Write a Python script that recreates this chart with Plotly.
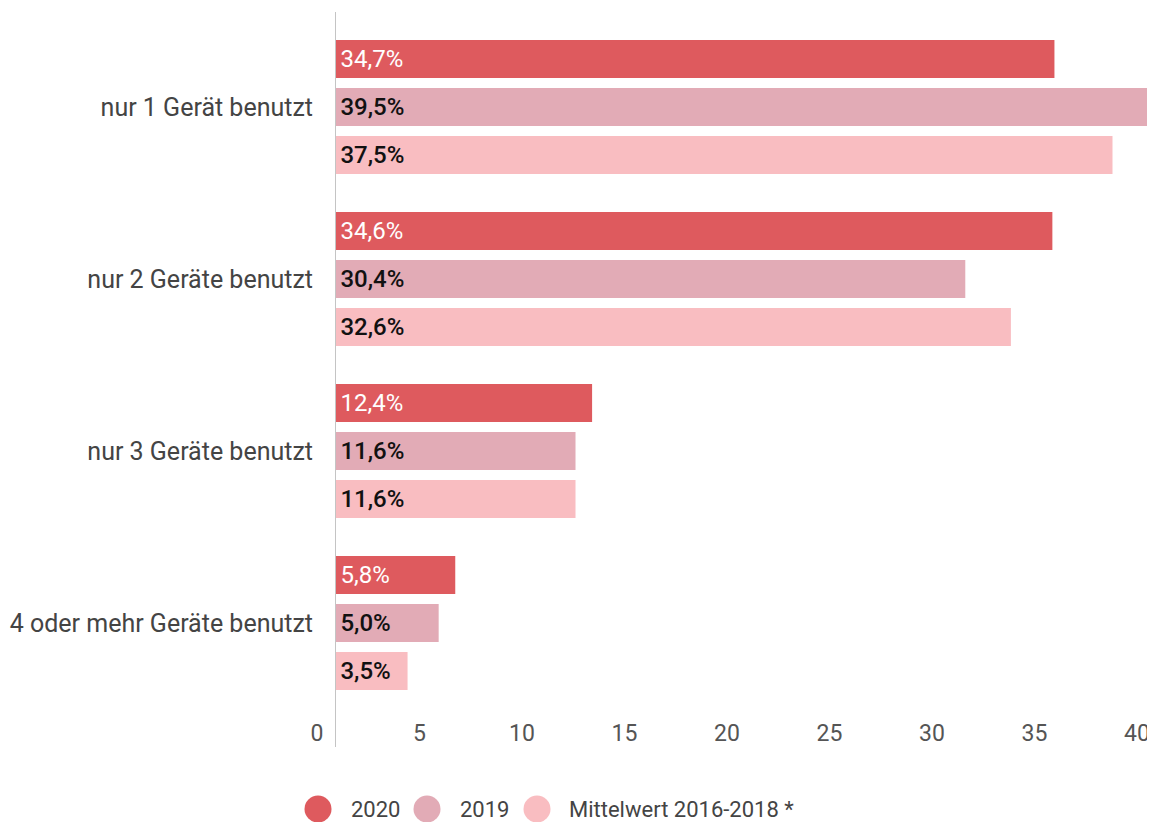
import plotly.graph_objects as go

categories = ["nur 1 Gerät benutzt", "nur 2 Geräte benutzt", "nur 3 Geräte benutzt", "4 oder mehr Geräte benutzt"]
values_2020 = [34.7, 34.6, 12.4, 5.8]
values_2019 = [39.5, 30.4, 11.6, 5.0]
values_mittel = [37.5, 32.6, 11.6, 3.5]
series_names = ["2020", "2019", "Mittelwert 2016-2018 *"]
tick_values = [0, 5, 10, 15, 20, 25, 30, 35, 40]
tick_labels = ["0", "5", "10", "15", "20", "25", "30", "35", "40"]

colors = ["#DE5A5E", "#E2ABB6", "#F9BDC1"]
text_colors = ["#FFFFFF", "#111111", "#111111"]
FONT = "Roboto"

# the page body has an 8px margin, so the figure is made 8px smaller
BODY = 8
W, H = 1155 - BODY, 822 - BODY
PLOT_LEFT, PLOT_TOP, PLOT_BOTTOM = 335, 21, 709  # in window pixels
ML, MR = PLOT_LEFT - BODY, 0
MT = PLOT_TOP - BODY
MB = 822 - PLOT_BOTTOM
plot_w = 1155 - PLOT_LEFT
plot_h = PLOT_BOTTOM - PLOT_TOP

def px_x(x):
    return (x - PLOT_LEFT) / plot_w

def px_y(y):
    return (PLOT_BOTTOM - y) / plot_h

def fmt(v):
    return "\u200a" + f"{v:.1f}".replace(".", ",") + "%"

fig = go.Figure()
for name, vals, col, tcol in zip(series_names, [values_2020, values_2019, values_mittel], colors, text_colors):
    fig.add_trace(go.Bar(
        y=categories, x=vals, orientation="h", name=name,
        marker=dict(color=col, line=dict(width=0)),
        text=[fmt(v) for v in vals], textposition="inside", insidetextanchor="start",
        textfont=dict(family=FONT, size=24, color=tcol, weight=(400 if tcol == "#FFFFFF" else 500)),
        constraintext="none", cliponaxis=False, showlegend=False,
        hoverinfo="skip",
    ))

# invisible trace to activate the label axis
fig.add_trace(go.Scatter(x=[0, 40], y=[categories[0], categories[0]], xaxis="x2", mode="markers",
                         marker=dict(opacity=0), showlegend=False, hoverinfo="skip"))

fig.update_layout(
    width=W, height=H,
    margin=dict(l=ML, r=MR, t=MT, b=MB, autoexpand=False),
    paper_bgcolor="white", plot_bgcolor="white",
    barmode="group", bargap=0.163, bargroupgap=0.208,
    font=dict(family=FONT, color="#444444"),
    showlegend=False,
    xaxis=dict(range=[0, 39.55], showgrid=False, zeroline=False, showticklabels=False, showline=False, fixedrange=True),
    xaxis2=dict(range=[0, 40], overlaying="x", side="bottom", anchor="y", showgrid=False, zeroline=False,
                showline=False, tickmode="array", tickvals=tick_values, ticktext=tick_labels,
                tickfont=dict(family=FONT, size=23, color="#555555"), ticklabelshift=-18, ticklabelstandoff=8),
    yaxis=dict(range=[3.5, -0.5], type="category", categoryorder="array", categoryarray=categories,
               showgrid=False, zeroline=False, showline=False, ticks="",
               tickfont=dict(family=FONT, size=25, color="#444444"), ticklabelstandoff=21),
)

# vertical axis line
fig.add_shape(type="line", xref="x", yref="paper", x0=0, x1=0,
              y0=px_y(747), y1=px_y(12),
              line=dict(color="#C4C4C4", width=2))

# custom legend with large circles
legend_y = px_y(809)
legend_items = [(318, 349), (427, 458), (537, 567)]
for (cx, tx), name, col in zip(legend_items, series_names, colors):
    fig.add_shape(type="circle", xref="paper", yref="paper", xsizemode="pixel", ysizemode="pixel",
                  xanchor=px_x(cx), yanchor=legend_y, x0=-13.5, x1=13.5, y0=-13.5, y1=13.5,
                  fillcolor=col, line=dict(width=0))
    fig.add_annotation(xref="paper", yref="paper", x=px_x(tx), y=legend_y, text=name,
                       showarrow=False, xanchor="left", yanchor="middle",
                       font=dict(family=FONT, size=22, color="#444444"))

fig.write_html("out.html")
